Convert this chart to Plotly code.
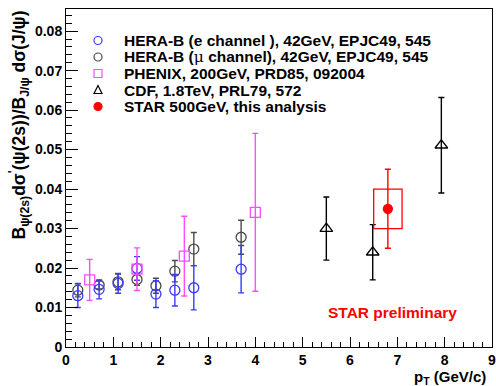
import plotly.graph_objects as go

# HERA-B, 42 GeV (EPJC49, 545): electron and muon channels
herab_pt = [0.25, 0.7, 1.1, 1.5, 1.9, 2.3, 2.7, 3.7]
herab_e_ratio = [0.0130, 0.0146, 0.0161, 0.0199, 0.0134, 0.0144, 0.0150, 0.0197]
herab_e_err = [0.0030, 0.0024, 0.0025, 0.0030, 0.0034, 0.0040, 0.0056, 0.0060]
herab_mu_ratio = [0.0144, 0.0157, 0.0165, 0.0171, 0.0155, 0.0192, 0.0248, 0.0278]
herab_mu_err = [0.0017, 0.0010, 0.0020, 0.0015, 0.0019, 0.0027, 0.0042, 0.0043]

# PHENIX, 200 GeV (PRD85, 092004)
phenix_pt = [0.5, 1.5, 2.5, 4.0]
phenix_ratio = [0.0170, 0.0197, 0.0230, 0.0341]
phenix_err = [0.0052, 0.0054, 0.0101, 0.0200]

# CDF, 1.8 TeV (PRL79, 572)
cdf_pt = [5.5, 6.48, 7.93]
cdf_ratio = [0.0300, 0.0240, 0.0511]
cdf_err = [0.0080, 0.0070, 0.0121]

# STAR, 500 GeV
star_pt = [6.8]
star_ratio = [0.0350]
star_stat = [0.0100]
star_sys = [0.0050]
star_box_halfwidth = 0.3

legend_labels = [
    "HERA-B (e channel ), 42GeV, EPJC49, 545",
    "HERA-B (<span style='font-family:DejaVu Serif;font-weight:normal'>μ</span> channel), 42GeV, EPJC49, 545",
    "PHENIX, 200GeV, PRD85, 092004",
    "CDF, 1.8TeV, PRL79, 572",
    "STAR 500GeV, this analysis",
]

BLUE = "#3a3aff"
GRAY = "#4a4a4a"
MAGENTA = "#ff4cff"
BLACK = "#000000"
RED = "#ff0000"
FONT = "Liberation Sans, Arial, Helvetica, sans-serif"

W, H = 496, 386
ML, MR, MT, MB = 66, 4, 9, 39
PW, PH = W - ML - MR, H - MT - MB


def px(x):
    return (x - ML) / PW


def py(y):
    return (H - MB - y) / PH


def series(x, y, err, color, symbol, size=10, caps=3):
    return go.Scatter(
        x=x, y=y, mode="markers", showlegend=False,
        marker=dict(symbol=symbol, size=size, color=color,
                    line=dict(color=color, width=1.3)),
        error_y=dict(type="data", array=err, color=color,
                     thickness=1.4, width=caps),
    )


fig = go.Figure()
fig.add_trace(series(herab_pt, herab_mu_ratio, herab_mu_err, GRAY, "circle-open"))
fig.add_trace(series(herab_pt, herab_e_ratio, herab_e_err, BLUE, "circle-open"))
fig.add_trace(series(phenix_pt, phenix_ratio, phenix_err, MAGENTA, "square-open", size=10))
fig.add_trace(series(cdf_pt, cdf_ratio, cdf_err, BLACK, "triangle-up-open", size=11))
fig.add_trace(series(star_pt, star_ratio, star_stat, RED, "circle", size=9))

# systematic uncertainty box for the STAR point
for x, y, s in zip(star_pt, star_ratio, star_sys):
    fig.add_shape(type="rect", xref="x", yref="y",
                  x0=x - star_box_halfwidth, x1=x + star_box_halfwidth,
                  y0=y - s, y1=y + s,
                  line=dict(color=RED, width=1.3), fillcolor="rgba(0,0,0,0)")

# legend drawn by hand: symbol column + text column
legend_rows_y = [40.5, 57.0, 73.5, 90.0, 106.5]
sym_x = 98
r = 4
kinds = [("circle", BLUE, False), ("circle", GRAY, False), ("rect", MAGENTA, False),
         ("tri", BLACK, False), ("circle", RED, True)]
for (kind, color, filled), yy, label in zip(kinds, legend_rows_y, legend_labels):
    common = dict(xref="paper", yref="paper", xsizemode="pixel", ysizemode="pixel",
                  xanchor=px(sym_x), yanchor=py(yy),
                  line=dict(color=color, width=1.2),
                  fillcolor=color if filled else "rgba(0,0,0,0)")
    if kind == "tri":
        fig.add_shape(type="path", path=f"M {-r},{-r + 0.5} L {r},{-r + 0.5} L 0,{r + 0.5} Z", **common)
    else:
        fig.add_shape(type=kind, x0=-r, x1=r, y0=-r, y1=r, **common)
    fig.add_annotation(xref="paper", yref="paper", x=px(122), y=py(yy),
                       xanchor="left", yanchor="middle", showarrow=False,
                       text=label, font=dict(family=FONT, size=15.5, color="black", weight="bold"))

fig.add_annotation(xref="x", yref="y", x=6.9, y=0.0087, showarrow=False,
                   text="STAR preliminary",
                   font=dict(family=FONT, size=15.5, color=RED, weight="bold"))

# axis titles
fig.add_annotation(xref="paper", yref="paper", x=px(19), y=py(9),
                   xanchor="center", yanchor="top", textangle=-90, showarrow=False,
                   text="B<sub>ψ(2s)</sub>dσ<sup>'</sup>(ψ(2s))/B<sub>J/ψ</sub> dσ(J/ψ)",
                   font=dict(family=FONT, size=17.5, color="black", weight="bold"))
fig.add_annotation(xref="paper", yref="paper", x=px(488), y=py(377),
                   xanchor="right", yanchor="middle", showarrow=False,
                   text="p<sub>T</sub> (GeV/c)",
                   font=dict(family=FONT, size=15, color="black", weight="bold"))

tickfont = dict(family=FONT, size=14, color="black", weight="bold")
fig.update_xaxes(range=[0, 9], dtick=1, tick0=0, ticks="inside", ticklen=10,
                 tickwidth=1, tickcolor="black", tickfont=tickfont,
                 ticklabeloverflow="allow", automargin=False,
                 minor=dict(dtick=0.2, ticks="inside", ticklen=5, tickcolor="black"),
                 showline=True, linecolor="black", linewidth=1, mirror=True,
                 showgrid=False, zeroline=False)
fig.update_yaxes(range=[0, 0.0856], dtick=0.01, tick0=0, ticks="inside", ticklen=12,
                 tickwidth=1, tickcolor="black", tickfont=tickfont,
                 ticklabeloverflow="allow", automargin=False,
                 minor=dict(dtick=0.002, ticks="inside", ticklen=6, tickcolor="black"),
                 showline=True, linecolor="black", linewidth=1, mirror=True,
                 showgrid=False, zeroline=False)

fig.update_layout(width=W, height=H, margin=dict(l=ML, r=MR, t=MT, b=MB),
                  paper_bgcolor="white", plot_bgcolor="white", showlegend=False)

fig.write_html("out.html")
